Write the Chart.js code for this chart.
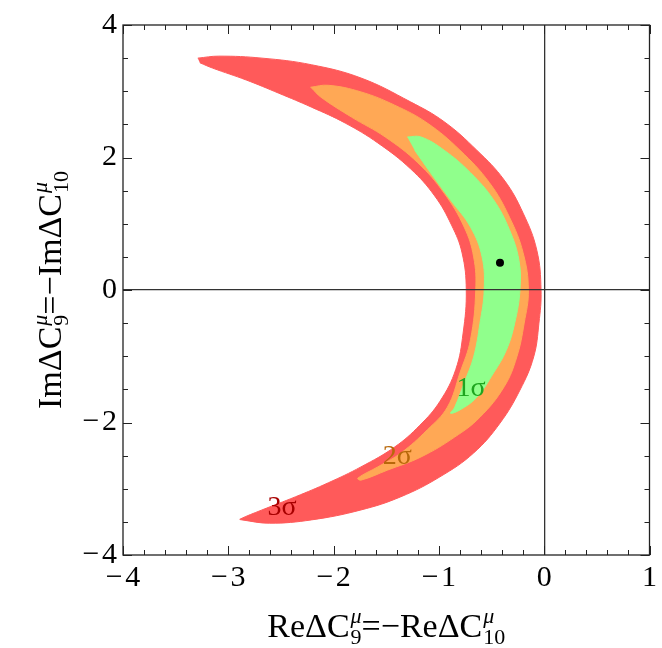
<!DOCTYPE html>
<html>
<head>
<meta charset="utf-8">
<script src="https://cdn.jsdelivr.net/npm/chart.js@4.4.0/dist/chart.umd.min.js"></script>
<style>
  html, body { margin: 0; padding: 0; background: #fff; }
</style>
</head>
<body>
<canvas id="mycanvas" width="662" height="648"></canvas>
<script>
// 3 sigma region (outer edge, then inner edge back)
var sigma3X = [-3.29,-3.09,-2.68,-2.21,-1.74,-1.27,-0.95,-0.64,-0.38,-0.20,-0.07,-0.03,-0.05,-0.10,-0.23,-0.42,-0.67,-0.99,-1.36,-1.74,-2.21,-2.61,-2.87,-2.89,-2.68,-2.36,-2.05,-1.74,-1.42,-1.18,-0.99,-0.84,-0.77,-0.74,-0.78,-0.88,-1.04,-1.27,-1.58,-1.89,-2.21,-2.52,-2.83,-3.15,-3.27];
var sigma3Y = [3.50,3.53,3.50,3.40,3.20,2.84,2.54,2.11,1.66,1.16,0.60,0.00,-0.50,-1.01,-1.51,-2.01,-2.46,-2.82,-3.12,-3.32,-3.47,-3.52,-3.47,-3.46,-3.32,-3.12,-2.91,-2.67,-2.37,-2.04,-1.68,-1.20,-0.65,0,0.56,0.98,1.42,1.83,2.22,2.52,2.76,2.97,3.17,3.35,3.43];

// 2 sigma
var sigma2X = [-2.22,-2.05,-1.74,-1.42,-1.11,-0.80,-0.52,-0.33,-0.20,-0.15,-0.19,-0.26,-0.38,-0.61,-0.85,-1.17,-1.49,-1.74,-1.77,-1.58,-1.36,-1.11,-0.92,-0.80,-0.70,-0.65,-0.67,-0.76,-0.95,-1.20,-1.51,-1.83,-2.12,-2.21];
var sigma2Y = [3.06,3.09,2.99,2.79,2.52,2.11,1.62,1.10,0.56,0,-0.50,-1.01,-1.46,-1.92,-2.22,-2.52,-2.72,-2.87,-2.84,-2.67,-2.46,-2.11,-1.77,-1.25,-0.75,0,0.50,0.95,1.46,1.92,2.31,2.61,2.91,3.05];

// 1 sigma
var sigma1X = [-1.30,-1.17,-0.95,-0.70,-0.48,-0.33,-0.24,-0.23,-0.28,-0.36,-0.48,-0.64,-0.80,-0.89,-0.85,-0.76,-0.67,-0.61,-0.57,-0.59,-0.70,-0.89,-1.08,-1.23];
var sigma1Y = [2.31,2.31,2.11,1.77,1.36,0.91,0.45,0,-0.50,-0.91,-1.25,-1.62,-1.81,-1.86,-1.77,-1.40,-1.01,-0.50,0,0.50,0.95,1.36,1.77,2.11];

// best fit point
var bestFitX = [-0.42];
var bestFitY = [0.41];

// contour labels
var sigmaLabels = ["1σ", "2σ", "3σ"];
var sigmaLabelX = [-0.695, -1.395, -2.49];
var sigmaLabelY = [-1.49, -2.52, -3.28];
var sigmaLabelColors = ["#1fa51f", "#b8680a", "#a80000"];

var xTickValues = [-4, -3, -2, -1, 0, 1];
var yTickValues = [-4, -2, 0, 2, 4];

function toPoints(xs, ys) {
  var pts = [];
  for (var i in xs) {
    pts.push({x: xs[i], y: ys[i]});
  }
  return pts;
}

function tickText(v) {
  return v < 0 ? "\u2212\u200A" + Math.abs(v) : String(v);
}

var serif = "'Liberation Serif', 'DejaVu Serif', serif";
var titleSize = 34;

// draws text pieces with stacked sup/sub, centred on cx
function drawMathTitle(ctx, parts, cx, cy) {
  var small = Math.round(titleSize * 0.66);
  var w = 0, i, p;
  for (i = 0; i < parts.length; i++) {
    p = parts[i];
    if (p.t) {
      ctx.font = titleSize + "px " + serif;
      p.w = ctx.measureText(p.t).width;
    } else {
      ctx.font = "italic " + small + "px " + serif;
      var a = ctx.measureText(p.sup).width;
      ctx.font = small + "px " + serif;
      var b = ctx.measureText(p.sub).width;
      p.w = Math.max(a, b) + 1;
    }
    w += p.w;
  }
  var x = cx - w / 2;
  ctx.fillStyle = "#000";
  ctx.textBaseline = "alphabetic";
  ctx.textAlign = "left";
  for (i = 0; i < parts.length; i++) {
    p = parts[i];
    if (p.t) {
      ctx.font = titleSize + "px " + serif;
      ctx.fillText(p.t, x, cy);
    } else {
      ctx.font = "italic " + small + "px " + serif;
      ctx.fillText(p.sup, x + 1, cy - titleSize * 0.40);
      ctx.font = small + "px " + serif;
      ctx.fillText(p.sub, x + 1, cy + titleSize * 0.20);
    }
    x += p.w;
  }
}

var framePlugin = {
  id: "frame",
  afterDatasetsDraw: function(chart) {
    var ctx = chart.ctx;
    var sx = chart.scales.x, sy = chart.scales.y;
    ctx.save();
    ctx.textAlign = "center";
    ctx.textBaseline = "middle";
    ctx.font = "28px " + serif;
    for (var i in sigmaLabels) {
      ctx.fillStyle = sigmaLabelColors[i];
      ctx.fillText(sigmaLabels[i], sx.getPixelForValue(sigmaLabelX[i]), sy.getPixelForValue(sigmaLabelY[i]));
    }
    ctx.restore();
  },
  afterDraw: function(chart) {
    var ctx = chart.ctx;
    var a = chart.chartArea;
    var sx = chart.scales.x, sy = chart.scales.y;
    ctx.save();
    ctx.strokeStyle = "#222";
    ctx.lineWidth = 1.3;
    ctx.strokeRect(a.left, a.top, a.right - a.left, a.bottom - a.top);
    ctx.lineWidth = 1;
    ctx.beginPath();
    var k, v, px, len;
    for (k = 0; k <= 25; k++) {
      v = -4 + k * 0.2;
      px = Math.round(sx.getPixelForValue(v)) + 0.5;
      len = (k % 5 === 0) ? 9 : 5;
      ctx.moveTo(px, a.bottom); ctx.lineTo(px, a.bottom - len);
      ctx.moveTo(px, a.top); ctx.lineTo(px, a.top + len);
    }
    for (k = 0; k <= 16; k++) {
      v = -4 + k * 0.5;
      px = Math.round(sy.getPixelForValue(v)) + 0.5;
      len = (k % 4 === 0) ? 9 : 5;
      ctx.moveTo(a.left, px); ctx.lineTo(a.left + len, px);
      ctx.moveTo(a.right, px); ctx.lineTo(a.right - len, px);
    }
    ctx.stroke();

    drawMathTitle(ctx, [{t: "ReΔC"}, {sup: "μ", sub: "9"}, {t: "=\u2212ReΔC"}, {sup: "μ", sub: "10"}],
      (a.left + a.right) / 2, 637);
    ctx.translate(61, (a.top + a.bottom) / 2);
    ctx.rotate(-Math.PI / 2);
    drawMathTitle(ctx, [{t: "ImΔC"}, {sup: "μ", sub: "9"}, {t: "=\u2212ImΔC"}, {sup: "μ", sub: "10"}], 0, 0);
    ctx.restore();
  }
};

var chartdata = {
  datasets: [
    {
      label: "3 sigma",
      data: toPoints(sigma3X, sigma3Y),
      showLine: true,
      fill: "shape",
      tension: 0.4,
      pointRadius: 0,
      backgroundColor: "rgb(255, 90, 90)",
      borderColor: "rgb(255, 90, 90)",
      borderWidth: 1,
      order: 3
    },
    {
      label: "2 sigma",
      data: toPoints(sigma2X, sigma2Y),
      showLine: true,
      fill: "shape",
      tension: 0.4,
      pointRadius: 0,
      backgroundColor: "rgb(255, 168, 85)",
      borderColor: "rgb(255, 168, 85)",
      borderWidth: 1,
      order: 2
    },
    {
      label: "1 sigma",
      data: toPoints(sigma1X, sigma1Y),
      showLine: true,
      fill: "shape",
      tension: 0.4,
      pointRadius: 0,
      backgroundColor: "rgb(144, 255, 140)",
      borderColor: "rgb(144, 255, 140)",
      borderWidth: 1,
      order: 1
    },
    {
      label: "best fit",
      data: toPoints(bestFitX, bestFitY),
      pointRadius: 4,
      backgroundColor: "#000",
      borderColor: "#000",
      borderWidth: 0,
      order: 0
    }
  ]
};

var ctx = document.getElementById("mycanvas");
var plot = new Chart(ctx, {
  type: "scatter",
  data: chartdata,
  plugins: [framePlugin],
  options: {
    responsive: false,
    animation: false,
    layout: { padding: { top: 25, right: 8, left: 0, bottom: 0 } },
    plugins: {
      legend: { display: false },
      tooltip: { enabled: false }
    },
    scales: {
      x: {
        type: "linear",
        min: -4,
        max: 1,
        afterBuildTicks: function(scale) {
          scale.ticks = xTickValues.map(function(v) { return {value: v}; });
        },
        afterFit: function(scale) { scale.height = 93; },
        border: { display: false },
        grid: {
          z: 1,
          drawTicks: false,
          lineWidth: 1.3,
          color: function(c) { return c.tick && c.tick.value === 0 ? "#333" : "rgba(0,0,0,0)"; }
        },
        ticks: {
          padding: 5,
          maxRotation: 0,
          color: "#000",
          font: { family: serif, size: 30 },
          callback: function(v) { return tickText(v); }
        }
      },
      y: {
        type: "linear",
        min: -4,
        max: 4,
        afterBuildTicks: function(scale) {
          scale.ticks = yTickValues.map(function(v) { return {value: v}; });
        },
        afterFit: function(scale) { scale.width = 123; },
        border: { display: false },
        grid: {
          z: 1,
          drawTicks: false,
          lineWidth: 1.3,
          color: function(c) { return c.tick && c.tick.value === 0 ? "#333" : "rgba(0,0,0,0)"; }
        },
        ticks: {
          padding: 6,
          color: "#000",
          font: { family: serif, size: 30 },
          callback: function(v) { return tickText(v); }
        }
      }
    }
  }
});
</script>
</body>
</html>
